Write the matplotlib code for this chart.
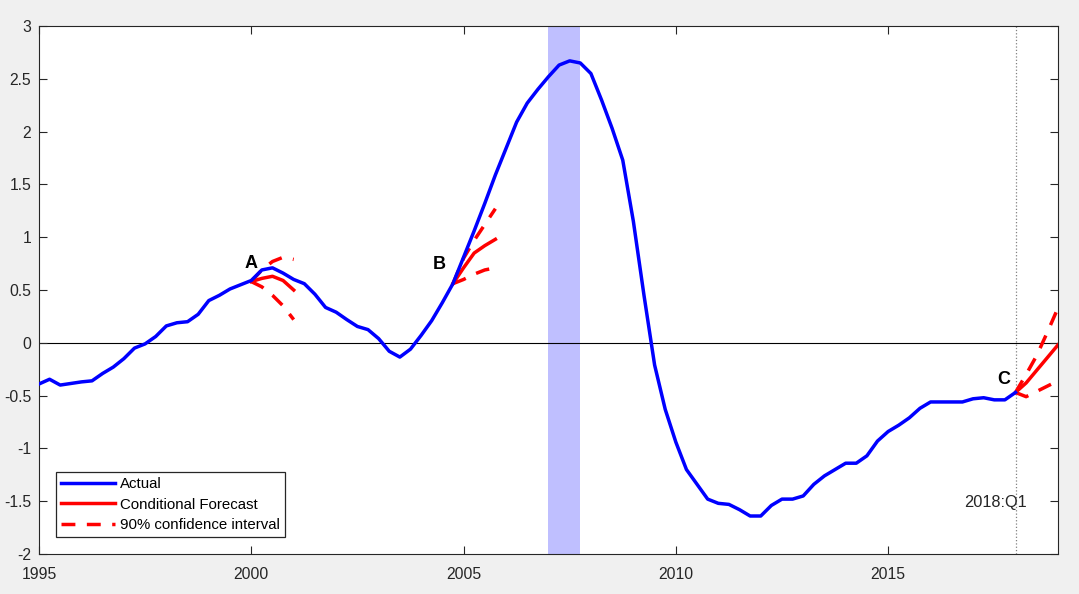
import numpy as np
import matplotlib
matplotlib.use('Agg')
from matplotlib import pyplot as plt
from matplotlib.ticker import FormatStrFormatter

plt.rcParams['font.family'] = ['Liberation Sans', 'DejaVu Sans']

# 实际值 (季度, 1995Q1 - 2018Q1)
quarters = np.arange(1995.0, 2018.01, 0.25)
actual = [-0.39, -0.345, -0.40, -0.385, -0.37, -0.36, -0.29, -0.23,
          -0.15, -0.05, -0.01, 0.06, 0.16, 0.19, 0.20, 0.27,
          0.40, 0.45, 0.51, 0.55, 0.59, 0.69, 0.71, 0.66,
          0.60, 0.56, 0.46, 0.335, 0.29, 0.22, 0.155, 0.125,
          0.04, -0.08, -0.135, -0.06, 0.07, 0.21, 0.38, 0.56,
          0.81, 1.06, 1.32, 1.59, 1.84, 2.09, 2.27, 2.40,
          2.52, 2.63, 2.67, 2.65, 2.55, 2.30, 2.03, 1.73,
          1.15, 0.45, -0.21, -0.63, -0.94, -1.20, -1.34, -1.48,
          -1.52, -1.53, -1.58, -1.64, -1.64, -1.54, -1.48, -1.48,
          -1.45, -1.34, -1.26, -1.20, -1.14, -1.14, -1.07, -0.93,
          -0.84, -0.78, -0.71, -0.62, -0.56, -0.56, -0.56, -0.56,
          -0.53, -0.52, -0.54, -0.54, -0.47]

# 条件预测 A / B / C
xa = [2000.0, 2000.25, 2000.5, 2000.75, 2001.0]
fa = [0.58, 0.61, 0.63, 0.59, 0.50]
fa_hi = [0.58, 0.69, 0.77, 0.81, 0.79]
fa_lo = [0.58, 0.53, 0.45, 0.35, 0.22]

xb = [2004.75, 2005.0, 2005.25, 2005.5, 2005.75]
fb = [0.56, 0.71, 0.85, 0.92, 0.98]
fb_hi = [0.56, 0.80, 0.97, 1.12, 1.27]
fb_lo = [0.56, 0.60, 0.65, 0.69, 0.71]

xc = [2018.0, 2018.25, 2018.5, 2018.75, 2019.0]
fc = [-0.47, -0.38, -0.26, -0.14, -0.02]
fc_hi = [-0.47, -0.30, -0.12, 0.10, 0.33]
fc_lo = [-0.47, -0.51, -0.46, -0.41, -0.36]

recession = (2007.0, 2007.75)
forecast_date = 2018.0

fig = plt.figure(figsize=(10.79, 5.94), dpi=100, facecolor='#f0f0f0')
ax = fig.add_axes([0.0361, 0.0673, 0.9444, 0.8889])

ax.axvspan(recession[0], recession[1], color=(0.75, 0.75, 1.0), zorder=0, lw=0)
ax.axhline(0, color='black', lw=0.8, zorder=1)

dash = (4, 3.3)
for x, f, hi, lo in [(xa, fa, fa_hi, fa_lo), (xb, fb, fb_hi, fb_lo), (xc, fc, fc_hi, fc_lo)]:
    ax.plot(x, f, color='red', lw=2.5, zorder=2)
    ax.plot(x, hi, color='red', lw=2.5, dashes=dash, zorder=2)
    ax.plot(x, lo, color='red', lw=2.5, dashes=dash, zorder=2)

ax.plot(quarters, actual, color='blue', lw=2.5, zorder=3)
ax.axvline(forecast_date, color='#808080', lw=0.9, ls=':', zorder=1)

# 图例
h1, = ax.plot([], [], color='blue', lw=2.5, label='Actual')
h2, = ax.plot([], [], color='red', lw=2.5, label='Conditional Forecast')
h3, = ax.plot([], [], color='red', lw=2.5, dashes=dash, label='90% confidence interval')
leg = ax.legend(handles=[h1, h2, h3], loc='lower left', bbox_to_anchor=(0.0167, 0.032),
                borderaxespad=0, fancybox=False, framealpha=1, edgecolor='#262626',
                fontsize=10.8, handlelength=3.6, handletextpad=0.3, labelspacing=0.42,
                borderpad=0.35)
leg.get_frame().set_linewidth(0.9)

# 标注
ax.text(2000.0, 0.75, 'A', fontsize=13, fontweight='bold', ha='center', va='center')
ax.text(2004.43, 0.74, 'B', fontsize=13, fontweight='bold', ha='center', va='center')
ax.text(2017.73, -0.35, 'C', fontsize=13, fontweight='bold', ha='center', va='center')
ax.text(2017.53, -1.51, '2018:Q1', fontsize=11.8, ha='center', va='center', color='#262626')

ax.set_xlim(1995, 2019)
ax.set_ylim(-2, 3)
ax.set_xticks([1995, 2000, 2005, 2010, 2015])
ax.set_yticks(np.arange(-2, 3.01, 0.5))
ax.yaxis.set_major_formatter(FormatStrFormatter('%g'))
ax.tick_params(direction='in', top=True, right=True, length=6, width=0.8,
               colors='#262626', labelsize=11.3)
ax.tick_params(axis='x', pad=9)
ax.tick_params(axis='y', pad=5.5)
for s in ax.spines.values():
    s.set_color('#262626')
    s.set_linewidth(0.8)

fig.savefig('out.png', dpi=100, facecolor=fig.get_facecolor())
